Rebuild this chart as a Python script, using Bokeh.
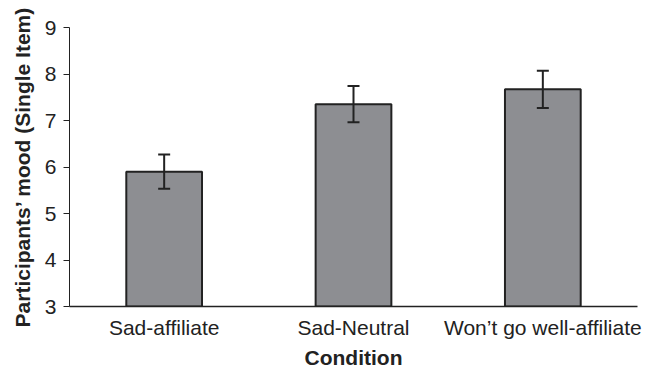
from bokeh.plotting import figure
from bokeh.models import ColumnDataSource, Whisker, TeeHead, FactorRange, Range1d, FixedTicker
from bokeh.embed import file_html
from bokeh.resources import INLINE

conditions = ["Sad-affiliate", "Sad-Neutral", "Won\u2019t go well-affiliate"]
means = [5.90, 7.35, 7.67]
errors = [0.37, 0.39, 0.40]
y_ticks = [3, 4, 5, 6, 7, 8, 9]

lower = [m - e for m, e in zip(means, errors)]
upper = [m + e for m, e in zip(means, errors)]
src = ColumnDataSource(dict(x=conditions, top=means, lower=lower, upper=upper))

p = figure(width=651, height=372, x_range=FactorRange(*conditions, range_padding=0),
           y_range=Range1d(3, 9), output_backend="svg", toolbar_location=None,
           min_border_left=69, min_border_right=14, min_border_top=27, min_border_bottom=66)
p.outline_line_color = None
p.xgrid.grid_line_color = None
p.ygrid.grid_line_color = None
p.background_fill_color = "white"

p.vbar(x="x", top="top", bottom=3, width=0.4, source=src,
       fill_color="#8d8e92", line_color="#222222", line_width=2)

w = Whisker(base="x", lower="lower", upper="upper", source=src, level="overlay",
            line_color="#222222", line_width=2,
            upper_head=TeeHead(size=12, line_color="#222222", line_width=2),
            lower_head=TeeHead(size=12, line_color="#222222", line_width=2))
p.add_layout(w)

font = "Liberation Sans"
p.yaxis.ticker = FixedTicker(ticks=y_ticks)
p.yaxis.axis_label = "Participants\u2019 mood (Single Item)"
p.yaxis.axis_label_text_font = font
p.yaxis.axis_label_text_font_style = "bold"
p.yaxis.axis_label_text_font_size = "21px"
p.yaxis.axis_label_text_color = "#222222"
p.yaxis.axis_label_standoff = 8
p.yaxis.major_label_text_font = font
p.yaxis.major_label_text_font_size = "21px"
p.yaxis.major_label_text_color = "#222222"
p.yaxis.major_label_standoff = 7
p.yaxis.major_tick_out = 6
p.yaxis.major_tick_in = 0
p.yaxis.minor_tick_line_color = None
p.yaxis.axis_line_color = "#222222"
p.yaxis.major_tick_line_color = "#222222"

p.xaxis.axis_label = "Condition"
p.xaxis.axis_label_text_font = font
p.xaxis.axis_label_text_font_style = "bold"
p.xaxis.axis_label_text_font_size = "21px"
p.xaxis.axis_label_text_color = "#222222"
p.xaxis.axis_label_standoff = 4
p.xaxis.major_label_text_font = font
p.xaxis.major_label_text_font_size = "21px"
p.xaxis.major_label_text_color = "#222222"
p.xaxis.major_label_standoff = 3
p.xaxis.major_tick_line_color = None
p.xaxis.minor_tick_line_color = None
p.xaxis.axis_line_color = "#222222"
p.xaxis.axis_line_width = 1.5

open("out.html", "w").write(file_html(p, INLINE))
